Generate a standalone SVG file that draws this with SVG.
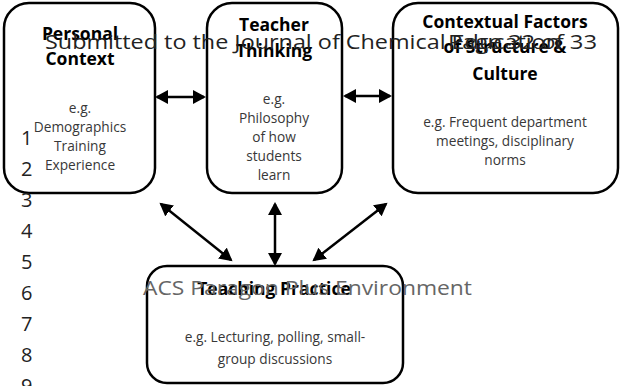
<svg xmlns="http://www.w3.org/2000/svg" width="620" height="386" viewBox="0 0 620 386">
<style>
.box{fill:#fff;stroke:#000;stroke-width:2.5}
.t{font-family:"Open Sans","Noto Sans",sans-serif;font-weight:bold;font-size:17.5px;fill:#000;text-anchor:middle}
.b{font-family:"Open Sans","Noto Sans",sans-serif;font-size:13.7px;fill:#383838;text-anchor:middle}
.c{stroke:#000;stroke-width:2.5;fill:none;marker-start:url(#ah);marker-end:url(#ah)}
.w{font-family:"Open Sans","Noto Sans",sans-serif;font-size:20px;fill:#222}
.g{font-family:"Open Sans","Noto Sans",sans-serif;font-size:20px;fill:#666}
</style>
<defs>
<marker id="ah" markerUnits="userSpaceOnUse" markerWidth="14" markerHeight="14" refX="11" refY="7" orient="auto-start-reverse">
<path d="M0,0 L13,7 L0,14 Z" fill="#000"/>
</marker>
</defs>
<g id="personal-context">
<rect class="box" x="4" y="3" width="151" height="190" rx="25"/>
<text class="t" x="80" y="40">Personal</text>
<text class="t" x="80" y="65">Context</text>
<text class="b" x="80" y="113">e.g.</text>
<text class="b" x="80" y="132">Demographics</text>
<text class="b" x="80" y="151">Training</text>
<text class="b" x="80" y="170">Experience</text>
</g>
<g id="teacher-thinking">
<rect class="box" x="207" y="3" width="135" height="190" rx="25"/>
<text class="t" x="274" y="31">Teacher</text>
<text class="t" x="274" y="57">Thinking</text>
<text class="b" x="274" y="104">e.g.</text>
<text class="b" x="274" y="123">Philosophy</text>
<text class="b" x="274" y="142">of how</text>
<text class="b" x="274" y="161">students</text>
<text class="b" x="274" y="180">learn</text>
</g>
<g id="contextual-factors">
<rect class="box" x="393" y="3" width="225" height="190" rx="25"/>
<text class="t" x="505" y="28">Contextual Factors</text>
<text class="t" x="505" y="53">of Structure &amp;</text>
<text class="t" x="505" y="80">Culture</text>
<text class="b" x="505" y="127">e.g. Frequent department</text>
<text class="b" x="505" y="146">meetings, disciplinary</text>
<text class="b" x="505" y="165">norms</text>
</g>
<g id="teaching-practice">
<rect class="box" x="147" y="266" width="256" height="117" rx="20"/>
<text class="t" x="274" y="295">Teaching Practice</text>
<text class="b" x="275" y="342">e.g. Lecturing, polling, small-</text>
<text class="b" x="275" y="364">group discussions</text>
</g>
<g id="connectors">
<line class="c" x1="157" y1="97" x2="204" y2="97"/>
<line class="c" x1="345" y1="96" x2="390" y2="96"/>
<line class="c" x1="161" y1="204" x2="231" y2="260"/>
<line class="c" x1="275" y1="204" x2="275" y2="264"/>
<line class="c" x1="386" y1="204" x2="314" y2="260"/>
</g>
<g id="page-overlay">
<text class="w" x="45" y="49" textLength="515" lengthAdjust="spacingAndGlyphs">Submitted to the Journal of Chemical Education</text>
<text class="w" x="448" y="49" textLength="149" lengthAdjust="spacingAndGlyphs">Page 32 of 33</text>
<text class="g" x="143" y="295" textLength="329" lengthAdjust="spacingAndGlyphs">ACS Paragon Plus Environment</text>
<text class="w" x="21" y="145">1</text>
<text class="w" x="21" y="176">2</text>
<text class="w" x="21" y="207">3</text>
<text class="w" x="21" y="238">4</text>
<text class="w" x="21" y="269">5</text>
<text class="w" x="21" y="300">6</text>
<text class="w" x="21" y="331">7</text>
<text class="w" x="21" y="362">8</text>
<text class="w" x="21" y="393">9</text>
</g>
</svg>
